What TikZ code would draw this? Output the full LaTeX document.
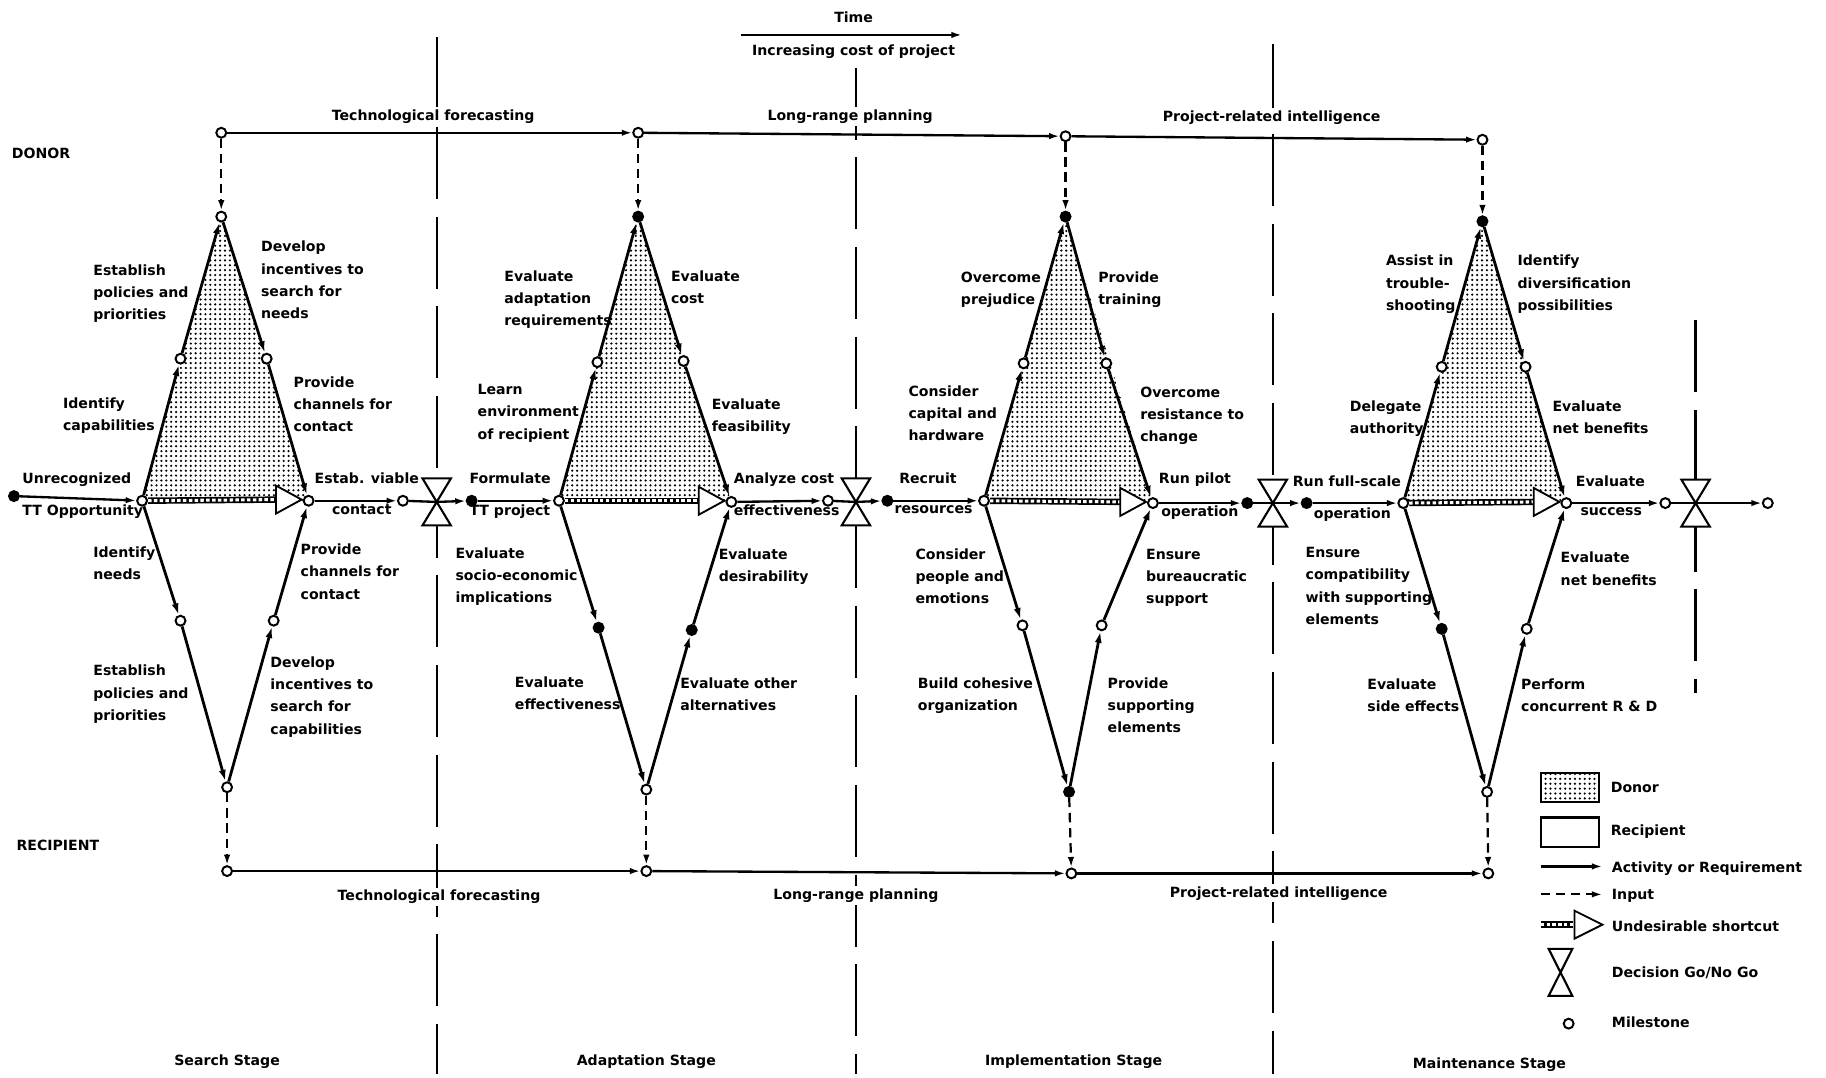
\documentclass[tikz,border=0pt]{standalone}
\usepackage{fontspec}
\setmainfont{DejaVu Sans}
\usetikzlibrary{arrows.meta,patterns.meta,calc}
\pgfdeclarelayer{bg}
\pgfsetlayers{bg,main}
\begin{document}
\begin{tikzpicture}[x=1pt,y=-1pt,
  every node/.style={inner sep=0pt},
  lbl/.style={anchor=north west, align=left, font=\fontsize{12.1}{19}\selectfont\bfseries},
  capt/.style={anchor=center, font=\fontsize{12.1}{19}\selectfont\bfseries, fill=white, inner sep=2pt},
  ms/.style={circle, draw, line width=1.7pt, minimum size=8.5pt, fill=white},
  msf/.style={ms, fill=black},
  act/.style={line width=2pt, -{Latex[length=9pt,width=5.5pt]}},
  plain/.style={line width=2pt},
  inp/.style={line width=1.9pt, dash pattern=on 8pt off 5pt, -{Latex[length=9pt,width=5.5pt]}},
  dedge/.style={line width=2.4pt, -{Latex[length=10pt,width=6pt]}},
  divider/.style={line width=2pt, dash pattern=on 62pt off 15pt},
  decision/.style={minimum width=24pt, minimum height=40pt},
  hg/.style={line width=1.8pt, fill=white},
  donorfill/.style={pattern={Dots[distance=4.2pt,radius=1.05pt]}},
  band/.style={line width=5.5pt, postaction={draw=white, line width=2.6pt, dash pattern=on 3pt off 2pt}},
  head/.style={line width=1.6pt, fill=white},
]
\useasboundingbox (0,0) rectangle (1568,925);

% ---------- nodes ----------
\node[msf] (S0) at (12,426) {};
% Diamond 1
\node[ms] (DT1) at (190,114) {};
\node[ms] (T1) at (190,186) {};
\node[ms] (UL1) at (155,308) {};
\node[ms] (UR1) at (229,308) {};
\node[ms] (L1) at (122,430) {};
\node[ms] (R1) at (265,430) {};
\node[ms] (LL1) at (155,533) {};
\node[ms] (LR1) at (235,533) {};
\node[ms] (B1) at (195,676) {};
\node[ms] (RB1) at (195,748) {};
\node[ms] (M1) at (346,430) {};
\node[decision] (X1) at (375,431) {};
\node[msf] (M2) at (405,430) {};
% Diamond 2
\node[ms] (DT2) at (548,114) {};
\node[msf] (T2) at (548,186) {};
\node[ms] (UL2) at (513,311) {};
\node[ms] (UR2) at (587,310) {};
\node[ms] (L2) at (480,430) {};
\node[ms] (R2) at (628,431) {};
\node[msf] (LL2) at (514,539) {};
\node[msf] (LR2) at (594,541) {};
\node[ms] (B2) at (555,678) {};
\node[ms] (RB2) at (555,748) {};
\node[ms] (M3) at (711,430) {};
\node[decision] (X2) at (735,431) {};
\node[msf] (M4) at (762,430) {};
% Diamond 3
\node[ms] (DT3) at (915,117) {};
\node[msf] (T3) at (915,186) {};
\node[ms] (UL3) at (879,312) {};
\node[ms] (UR3) at (950,312) {};
\node[ms] (L3) at (845,430) {};
\node[ms] (R3) at (990,432) {};
\node[ms] (LL3) at (878,537) {};
\node[ms] (LR3) at (946,537) {};
\node[msf] (B3) at (918,680) {};
\node[ms] (RB3) at (920,750) {};
\node[msf] (M5) at (1071,432) {};
\node[decision] (X3) at (1093,432) {};
\node[msf] (M6) at (1122,432) {};
% Diamond 4
\node[ms] (DT4) at (1273,120) {};
\node[msf] (T4) at (1273,190) {};
\node[ms] (UL4) at (1238,315) {};
\node[ms] (UR4) at (1310,315) {};
\node[ms] (L4) at (1205,432) {};
\node[ms] (R4) at (1345,432) {};
\node[msf] (LL4) at (1238,540) {};
\node[ms] (LR4) at (1311,540) {};
\node[ms] (B4) at (1277,680) {};
\node[ms] (RB4) at (1278,750) {};
\node[ms] (M7) at (1430,432) {};
\node[decision] (X4) at (1456,432) {};
\node[ms] (E) at (1518,432) {};

% ---------- background: dividers and donor fills ----------
\begin{pgfonlayer}{bg}
  \coordinate (V1a) at (375,32);   \coordinate (V1b) at (375,922);
  \coordinate (V2a) at (735,58);   \coordinate (V2b) at (735,922);
  \coordinate (V3a) at (1093,38);  \coordinate (V3b) at (1093,922);
  \coordinate (V4a) at (1456,275); \coordinate (V4b) at (1456,595);
  \draw[divider] (V1a) -- (V1b);
  \draw[divider] (V2a) -- (V2b);
  \draw[divider] (V3a) -- (V3b);
  \draw[divider] (V4a) -- (V4b);
  \foreach \k in {1,2,3,4}
    \fill[donorfill] (L\k.center) -- (T\k.center) -- (R\k.center) -- cycle;
\end{pgfonlayer}

% ---------- donor and recipient intelligence lines ----------
\draw[act] (DT1) -- (DT2);
\draw[act] (DT2) -- (DT3);
\draw[act] (DT3) -- (DT4);
\draw[act] (RB1) -- (RB2);
\draw[act] (RB2) -- (RB3);
\draw[act] (RB3) -- (RB4);

% ---------- diamonds ----------
\foreach \k in {1,2,3,4}{
  \draw[dedge] (L\k) -- (UL\k);
  \draw[dedge] (UL\k) -- (T\k);
  \draw[dedge] (T\k) -- (UR\k);
  \draw[dedge] (UR\k) -- (R\k);
  \draw[dedge] (L\k) -- (LL\k);
  \draw[dedge] (LL\k) -- (B\k);
  \draw[dedge] (B\k) -- (LR\k);
  \draw[dedge] (LR\k) -- (R\k);
  \draw[inp] (DT\k) -- (T\k);
  \draw[inp] (B\k) -- (RB\k);
  \draw[band] (L\k) -- ($(R\k)+(-26,-1)$);
  \draw[head] ($(R\k)+(-6,-1)$) -- ++(-22,-12) -- ++(0,24) -- cycle;
}

% ---------- main line ----------
\draw[act] (S0) -- (L1);
\draw[act] (R1) -- (M1);
\draw[plain] (M1) -- (X1.center);
\draw[act] (X1.center) -- (M2);
\draw[act] (M2) -- (L2);
\draw[act] (R2) -- (M3);
\draw[plain] (M3) -- (X2.center);
\draw[act] (X2.center) -- (M4);
\draw[act] (M4) -- (L3);
\draw[act] (R3) -- (M5);
\draw[plain] (M5) -- (X3.center);
\draw[act] (X3.center) -- (M6);
\draw[act] (M6) -- (L4);
\draw[act] (R4) -- (M7);
\draw[plain] (M7) -- (X4.center);
\draw[act] (X4.center) -- (E);
\foreach \d in {X1,X2,X3,X4}
  \draw[hg] (\d.north west) -- (\d.north east) -- (\d.south west) -- (\d.south east) -- cycle;

% ---------- time arrow ----------
\node[capt] (time) at (733,15) {Time};
\node[capt] (cost) at (733,44) {Increasing cost of project};
\coordinate (tA) at (636,30);
\coordinate (tB) at (826,30);
\draw[act] (tA) -- (tB);

% ---------- band captions ----------
\node[capt] (c1) at (372,100) {Technological forecasting};
\node[capt] (c2) at (730,100) {Long-range planning};
\node[capt] (c3) at (1092,101) {Project-related intelligence};
\node[capt] (c4) at (377,770) {Technological forecasting};
\node[capt] (c5) at (735,769) {Long-range planning};
\node[capt] (c6) at (1098,767) {Project-related intelligence};
\node[lbl, anchor=west] (donor) at (10,132) {DONOR};
\node[lbl, anchor=west] (recip) at (14,726) {RECIPIENT};
\node[capt] (s1) at (195,912) {Search Stage};
\node[capt] (s2) at (555,912) {Adaptation Stage};
\node[capt] (s3) at (922,912) {Implementation Stage};
\node[capt] (s4) at (1279,914) {Maintenance Stage};

% ---------- labels diamond 1 ----------
\node[lbl] (a1) at (80,227) {Establish\\policies and\\priorities};
\node[lbl] (a2) at (224,207) {Develop\\incentives to\\search for\\needs};
\node[lbl] (a3) at (54,341) {Identify\\capabilities};
\node[lbl] (a4) at (252,323) {Provide\\channels for\\contact};
\node[lbl] (a5) at (19,406) {Unrecognized};
\node[lbl] (a6) at (19,433) {TT Opportunity};
\node[lbl] (a7) at (270,406) {Estab. viable};
\node[lbl] (a8) at (285,433) {contact};
\node[lbl] (a9) at (80,469) {Identify\\needs};
\node[lbl] (a10) at (258,467) {Provide\\channels for\\contact};
\node[lbl] (a11) at (80,571) {Establish\\policies and\\priorities};
\node[lbl] (a12) at (232,564) {Develop\\incentives to\\search for\\capabilities};
% ---------- labels diamond 2 ----------
\node[lbl] (b1) at (433,232) {Evaluate\\adaptation\\requirements};
\node[lbl] (b2) at (576,232) {Evaluate\\cost};
\node[lbl] (b3) at (410,330) {Learn\\environment\\of recipient};
\node[lbl] (b4) at (611,342) {Evaluate\\feasibility};
\node[lbl] (b5) at (403,406) {Formulate};
\node[lbl] (b6) at (403,433) {TT project};
\node[lbl] (b7) at (630,406) {Analyze cost};
\node[lbl] (b8) at (630,433) {effectiveness};
\node[lbl] (b9) at (391,470) {Evaluate\\socio-economic\\implications};
\node[lbl] (b10) at (617,471) {Evaluate\\desirability};
\node[lbl] (b11) at (442,581) {Evaluate\\effectiveness};
\node[lbl] (b12) at (584,582) {Evaluate other\\alternatives};
% ---------- labels diamond 3 ----------
\node[lbl] (d1) at (825,233) {Overcome\\prejudice};
\node[lbl] (d2) at (943,233) {Provide\\training};
\node[lbl] (d3) at (780,331) {Consider\\capital and\\hardware};
\node[lbl] (d4) at (979,332) {Overcome\\resistance to\\change};
\node[lbl] (d5) at (772,406) {Recruit};
\node[lbl] (d6) at (768,434) {resources};
\node[lbl] (d7) at (995,406) {Run pilot};
\node[lbl] (d8) at (997,434) {operation};
\node[lbl] (d9) at (786,471) {Consider\\people and\\emotions};
\node[lbl] (d10) at (984,471) {Ensure\\bureaucratic\\support};
\node[lbl] (d11) at (788,582) {Build cohesive\\organization};
\node[lbl] (d12) at (951,582) {Provide\\supporting\\elements};
% ---------- labels diamond 4 ----------
\node[lbl] (e1) at (1190,219) {Assist in\\trouble-\\shooting};
\node[lbl] (e2) at (1303,219) {Identify\\diversification\\possibilities};
\node[lbl] (e3) at (1159,344) {Delegate\\authority};
\node[lbl] (e4) at (1333,344) {Evaluate\\net benefits};
\node[lbl] (e5) at (1110,408) {Run full-scale};
\node[lbl] (e6) at (1128,436) {operation};
\node[lbl] (e7) at (1353,408) {Evaluate};
\node[lbl] (e8) at (1357,436) {success};
\node[lbl] (e9) at (1121,470) {Ensure\\compatibility\\with supporting\\elements};
\node[lbl] (e10) at (1340,474) {Evaluate\\net benefits};
\node[lbl] (e11) at (1174,583) {Evaluate\\side effects};
\node[lbl] (e12) at (1306,583) {Perform\\concurrent R \& D};

% ---------- legend ----------
\node[draw, line width=1.8pt, donorfill, minimum width=50pt, minimum height=25pt] (lgD) at (1348,676.5) {};
\node[draw, line width=1.8pt, fill=white, minimum width=50pt, minimum height=25pt] (lgR) at (1348,714.5) {};
\node[lbl, anchor=west] (lgDt) at (1383,676) {Donor};
\node[lbl, anchor=west] (lgRt) at (1383,714) {Recipient};
\coordinate (la1) at (1323,744); \coordinate (la2) at (1376,744);
\draw[act] (la1) -- (la2);
\node[lbl, anchor=west] (lgAt) at (1384,746) {Activity or Requirement};
\coordinate (li1) at (1323,768); \coordinate (li2) at (1376,768);
\draw[inp] (li1) -- (li2);
\node[lbl, anchor=west] (lgIt) at (1384,769) {Input};
\coordinate (ls1) at (1323,794); \coordinate (ls2) at (1351,794);
\draw[band] (ls1) -- (ls2);
\draw[head] (1376,794) -- ++(-24,-12) -- ++(0,24) -- cycle;
\node[lbl, anchor=west] (lgSt) at (1384,795) {Undesirable shortcut};
\node[decision, minimum width=20pt, minimum height=40pt] (lgX) at (1340,835) {};
\draw[hg] (lgX.north west) -- (lgX.north east) -- (lgX.south west) -- (lgX.south east) -- cycle;
\node[lbl, anchor=west] (lgXt) at (1384,835) {Decision Go/No Go};
\node[ms] (lgM) at (1347,879) {};
\node[lbl, anchor=west] (lgMt) at (1384,878) {Milestone};
\end{tikzpicture}
\end{document}
